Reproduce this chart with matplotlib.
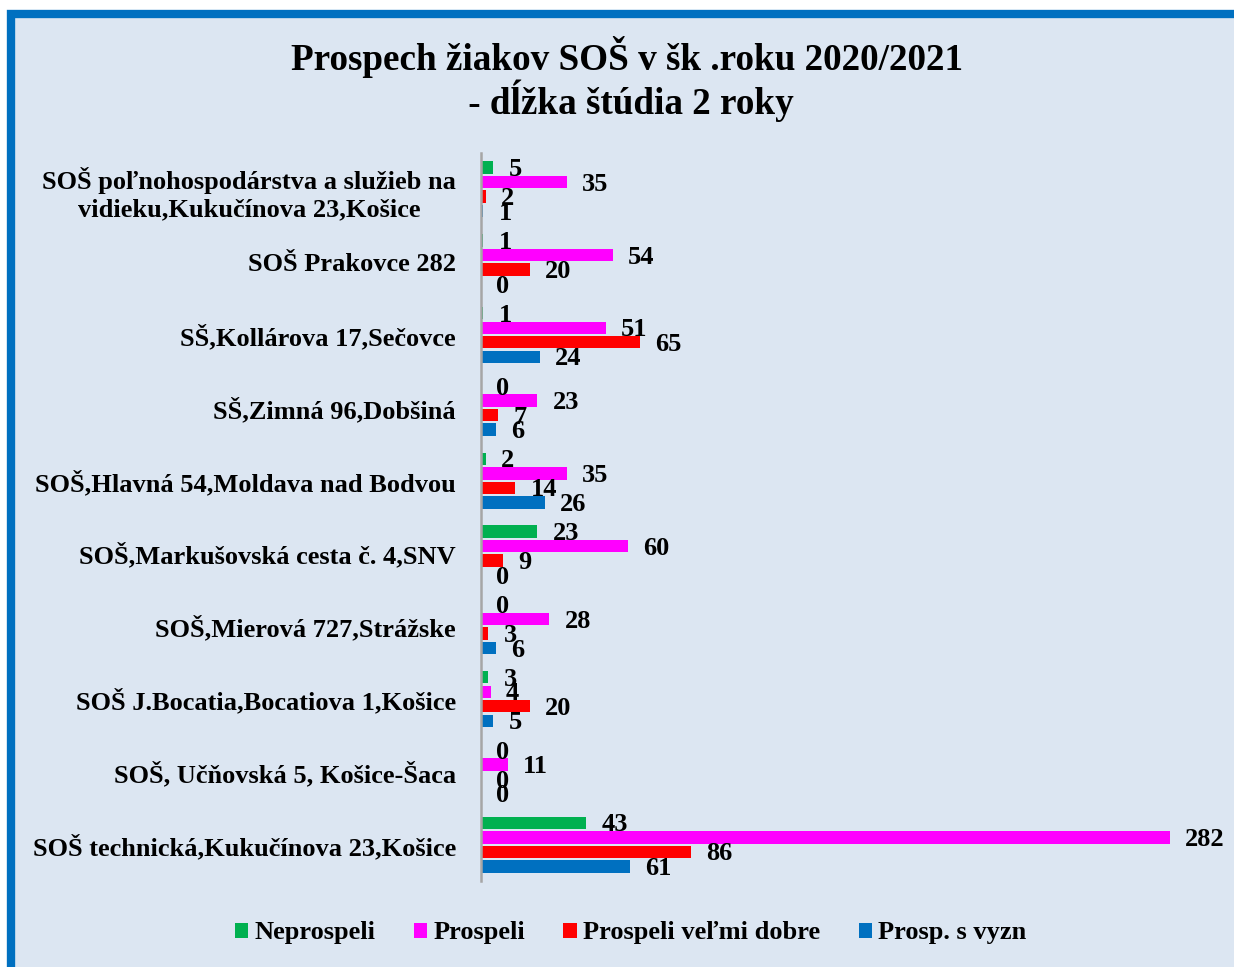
import numpy as np
import matplotlib
matplotlib.use('Agg')
import matplotlib.pyplot as plt
from matplotlib.patches import Rectangle

plt.rcParams['font.family'] = ['Liberation Serif', 'DejaVu Serif']
plt.rcParams['font.weight'] = 'bold'

# categories, top to bottom as shown
schools = [
    "SOŠ poľnohospodárstva a služieb na\nvidieku,Kukučínova 23,Košice",
    "SOŠ Prakovce 282",
    "SŠ,Kollárova 17,Sečovce",
    "SŠ,Zimná 96,Dobšiná",
    "SOŠ,Hlavná 54,Moldava nad Bodvou",
    "SOŠ,Markušovská cesta č. 4,SNV",
    "SOŠ,Mierová 727,Strážske",
    "SOŠ J.Bocatia,Bocatiova 1,Košice",
    "SOŠ, Učňovská 5, Košice-Šaca",
    "SOŠ technická,Kukučínova 23,Košice",
]
neprospeli = [5, 1, 1, 0, 2, 23, 0, 3, 0, 43]
prospeli = [35, 54, 51, 23, 35, 60, 28, 4, 11, 282]
velmi_dobre = [2, 20, 65, 7, 14, 9, 3, 20, 0, 86]
s_vyzn = [1, 0, 24, 6, 26, 0, 6, 5, 0, 61]

series = [
    ("Neprospeli", neprospeli, "#00B050"),
    ("Prospeli", prospeli, "#FF00FF"),
    ("Prospeli veľmi dobre", velmi_dobre, "#FF0000"),
    ("Prosp. s vyzn", s_vyzn, "#0070C0"),
]

fig = plt.figure(figsize=(12.34, 9.67), dpi=100)
fig.patch.set_facecolor('white')

# chart area with blue frame (right and bottom edges cut off)
frame = Rectangle((11 / 1234, -0.1), 1.2, 1 - 14 / 967 + 0.1,
                  transform=fig.transFigure, facecolor='#DCE6F2',
                  edgecolor='#0070C0', linewidth=6, zorder=0)
fig.patches.append(frame)

ax = fig.add_axes([481 / 1234, 1 - 881 / 967, 733 / 1234, 728 / 967])
ax.set_facecolor('none')
ax.set_zorder(2)

n = len(schools)
pos = np.arange(n)[::-1]  # first school at top
step = 0.2
bh = 0.17
for i, (name, vals, col) in enumerate(series):
    y = pos + (1.5 - i) * step
    ax.barh(y, vals, height=bh, color=col, label=name, zorder=2)
    for yy, v in zip(y, vals):
        ax.annotate(str(v), (v, yy), xytext=(11, -1.5), textcoords='offset points',
                    ha='left', va='center', fontsize=19, fontweight='bold')

ax.set_xlim(0, 300)
ax.set_ylim(-0.5, n - 0.5)
ax.set_yticks(pos)
ax.set_yticklabels(schools, fontsize=19, fontweight='bold', multialignment='center',
                   linespacing=1.25)
ax.tick_params(axis='y', length=0, pad=18)
ax.set_xticks([])
for s in ['top', 'right', 'bottom']:
    ax.spines[s].set_visible(False)
ax.spines['left'].set_color('#A6A6A6')
ax.spines['left'].set_linewidth(1.8)

fig.text(0.508, 1 - 79 / 967, "Prospech žiakov SOŠ v šk .roku 2020/2021\n - dĺžka štúdia 2 roky",
         ha='center', va='center', fontsize=26.7, fontweight='bold', linespacing=1.05)

handles, labels = ax.get_legend_handles_labels()
fig.legend(handles, labels, loc='center', bbox_to_anchor=(0.511, 1 - 933 / 967),
           ncol=4, frameon=False, handlelength=0.5, handleheight=0.5,
           handletextpad=0.25, columnspacing=1.45, prop={'weight': 'bold', 'size': 19})

fig.savefig('out.png', dpi=100, facecolor=fig.get_facecolor())
